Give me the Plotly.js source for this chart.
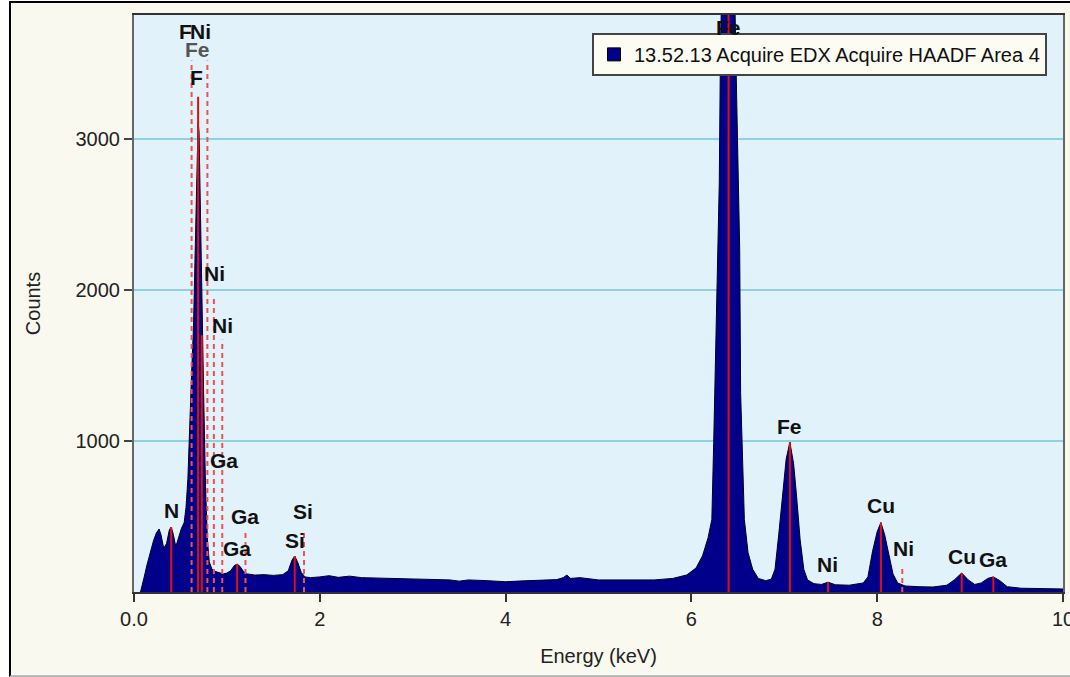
<!DOCTYPE html>
<html><head><meta charset="utf-8">
<script src="https://cdn.plot.ly/plotly-3.0.1.min.js"></script>
<style>
html,body{margin:0;padding:0;background:#fff;width:1070px;height:677px;overflow:hidden}
#frame{position:absolute;left:9px;top:1px;width:1061px;height:676px;border-left:2px solid #000;border-top:2px solid #000;border-bottom:2px solid #bbb;box-sizing:border-box;background:#FAF9F0}
#chart{position:absolute;left:11px;top:3px;width:1059px;height:674px}
</style></head><body>
<div id="frame"></div><div id="chart"></div>
<script>
// Spectrum (energy in keV, counts)
const energy = [0.07,0.09,0.11,0.14,0.18,0.21,0.24,0.27,0.29,0.32,0.35,0.38,0.40,0.42,0.45,0.48,0.51,0.54,0.56,0.58,0.60,0.62,0.64,0.66,0.68,0.69,0.70,0.71,0.72,0.73,0.75,0.77,0.79,0.81,0.84,0.88,0.92,0.96,1.00,1.04,1.08,1.11,1.14,1.18,1.22,1.30,1.40,1.50,1.60,1.66,1.70,1.73,1.76,1.80,1.84,1.90,2.00,2.10,2.20,2.32,2.45,2.60,2.80,3.00,3.20,3.40,3.50,3.60,3.80,4.00,4.20,4.40,4.55,4.62,4.66,4.70,4.80,5.00,5.20,5.40,5.60,5.80,5.95,6.05,6.12,6.18,6.22,6.24,6.27,6.30,6.31,6.33,6.40,6.46,6.48,6.52,6.53,6.57,6.61,6.66,6.72,6.80,6.86,6.90,6.94,6.98,7.02,7.06,7.10,7.13,7.17,7.21,7.25,7.32,7.40,7.47,7.55,7.70,7.85,7.90,7.95,8.00,8.04,8.08,8.12,8.17,8.22,8.30,8.45,8.60,8.75,8.83,8.91,8.98,9.05,9.12,9.19,9.25,9.32,9.40,9.55,9.80,10.0];
const counts = [0,60,100,180,280,340,390,417,380,290,320,410,430,390,300,360,420,460,560,750,1150,1450,1750,2250,2900,3110,3050,2700,2250,1720,1300,700,350,200,150,135,125,120,125,140,175,185,170,135,120,112,115,110,115,140,210,238,200,130,100,95,100,108,97,105,95,92,88,85,82,80,72,80,75,68,74,78,82,95,112,90,95,80,80,82,80,90,113,159,240,360,480,990,1870,2710,3410,4200,4500,4200,3500,2260,1320,480,260,150,90,75,85,150,380,650,880,993,850,650,350,150,80,55,50,65,48,45,60,100,270,400,460,380,260,120,60,40,35,33,45,80,126,80,50,60,90,100,75,35,25,20,20];

// Element marker lines (keV, counts at top)
const solidLineE   = [0.40, 0.69, 0.73, 1.11, 1.73, 6.40, 7.06, 7.47, 8.04, 8.91, 9.25];
const solidLineTop = [430, 3280, 1700, 185, 238, 4500, 993, 65, 460, 126, 100];
const dashedLineE   = [0.62, 0.79, 0.86, 0.95, 1.20, 1.83, 8.27];
const dashedLineTop = [3520, 3520, 1950, 1670, 400, 390, 160];

// Element labels
const labelText = ['N','F','Ni','Fe','F','Ni','Ni','Ga','Ga','Ga','Si','Si','Fe','Fe','Ni','Cu','Ni','Cu','Ga'];
const labelE    = [0.40,0.55,0.72,0.68,0.67,0.87,0.95,0.97,1.19,1.11,1.82,1.73,6.40,7.06,7.47,8.04,8.28,8.91,9.25];
const labelY    = [543,3715,3715,3590,3410,2106,1768,868,497,291,530,344,3740,1099,185,570,291,232,212];

const seriesName = '13.52.13 Acquire EDX Acquire HAADF Area 4';
const xTickVals = [0,2,4,6,8,10];
const xTickText = ['0.0','2','4','6','8','10'];
const yTickVals = [1000,2000,3000];

const FONT = 'Liberation Sans, Arial, sans-serif';

function segs(es, tops){
  const x=[], y=[];
  es.forEach((e,i)=>{ x.push(e,e,null); y.push(0,tops[i],null); });
  return {x,y};
}
const s = segs(solidLineE, solidLineTop);
const d = segs(dashedLineE, dashedLineTop);

const traces = [
  {x: energy, y: counts, type:'scatter', mode:'lines', fill:'tozeroy',
   fillcolor:'#00008B', line:{color:'#000022', width:1}, showlegend:false, hoverinfo:'x+y'},
  {x: s.x, y: s.y, type:'scatter', mode:'lines', line:{color:'#E01010', width:2},
   showlegend:false, hoverinfo:'skip'},
  {x: d.x, y: d.y, type:'scatter', mode:'lines', line:{color:'#F05050', width:2, dash:'5px,4px'},
   showlegend:false, hoverinfo:'skip'},
  {x:[null], y:[null], type:'scatter', mode:'markers', name: seriesName,
   marker:{symbol:'square', size:13, color:'#00008B', line:{color:'#000', width:1}}, showlegend:true}
];

const annotations = labelText.map((t,i)=>({
  x: labelE[i], y: labelY[i], xref:'x', yref:'y', text: t, showarrow:false,
  font:{family:FONT, size:21, color: (i===3 ? '#555' : '#111'), weight:'bold'}
}));

const layout = {
  width:1059, height:674,
  margin:{l:123, r:7, t:12, b:85},
  paper_bgcolor:'rgba(0,0,0,0)',
  plot_bgcolor:'#E2F2FA',
  font:{family:FONT, size:20, color:'#222'},
  xaxis:{range:[0,10], tickvals:xTickVals, ticktext:xTickText, ticks:'outside', ticklen:8, tickwidth:2,
    tickcolor:'#333', showline:true, linecolor:'#333', linewidth:2, mirror:true, showgrid:false, zeroline:false,
    ticklabeloverflow:'allow',
    tickfont:{family:FONT, size:20, color:'#222'},
    title:{text:'Energy (keV)', font:{family:FONT, size:20, color:'#222'}, standoff:20}},
  yaxis:{range:[0,3821], tickvals:yTickVals, ticks:'outside', ticklen:8, tickwidth:2, tickcolor:'#444',
    showline:true, linecolor:'#666', linewidth:2, mirror:true, showgrid:true, gridcolor:'#8CD2E2', gridwidth:2,
    zeroline:false, tickfont:{family:FONT, size:20, color:'#222'},
    title:{text:'Counts', font:{family:FONT, size:20, color:'#222'}, standoff:30}},
  showlegend:true,
  legend:{x:0.493, y:0.969, xanchor:'left', yanchor:'top', bgcolor:'#FCFCF2', bordercolor:'#444', borderwidth:2,
    font:{family:FONT, size:20, color:'#111'}},
  annotations: annotations
};

Plotly.newPlot('chart', traces, layout, {displayModeBar:false, staticPlot:true});
</script>
</body></html>
